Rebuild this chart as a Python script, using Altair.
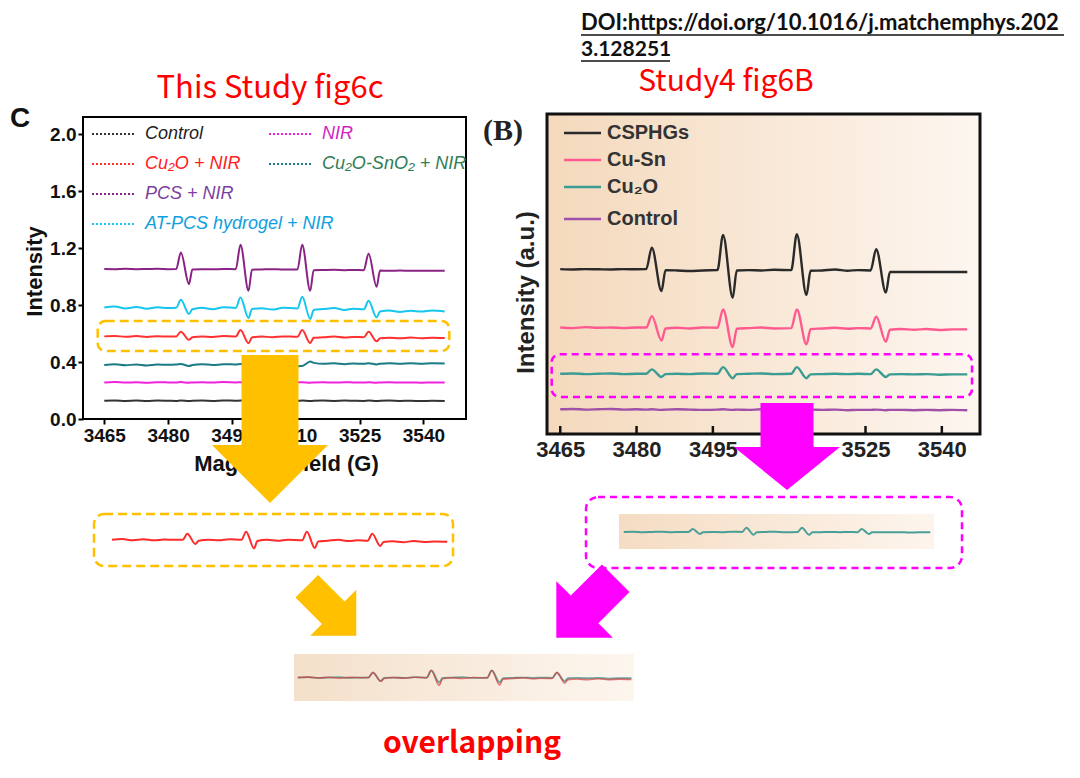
import altair as alt
import pandas as pd

# ---------------- data ----------------
X_GRID = [3465, 3467.5, 3470, 3472.5, 3475, 3477.5, 3480, 3481.9, 3483.0, 3484.9, 3485.7,
          3488, 3490.5, 3493, 3495.9, 3497.0, 3498.9, 3499.7, 3502, 3504.5, 3507,
          3510.4, 3511.5, 3513.4, 3514.2, 3516.5, 3519, 3521.5, 3523.5, 3526.0, 3527.1,
          3529.0, 3529.8, 3532, 3534.5, 3537, 3539.5, 3542, 3545]

LEFT_SERIES = ["Control", "NIR", "Cu₂O + NIR", "Cu₂O-SnO₂ + NIR", "PCS + NIR", "AT-PCS hydrogel + NIR"]
L_CONTROL = [0.128, 0.13, 0.127, 0.129, 0.126, 0.129, 0.128, 0.127, 0.13, 0.126, 0.128,
             0.129, 0.127, 0.13, 0.128, 0.129, 0.126, 0.128, 0.129, 0.127, 0.129,
             0.128, 0.129, 0.126, 0.128, 0.129, 0.127, 0.129, 0.128, 0.127, 0.129,
             0.126, 0.128, 0.129, 0.127, 0.128, 0.126, 0.128, 0.127]
L_NIR = [0.257, 0.259, 0.256, 0.258, 0.255, 0.258, 0.257, 0.256, 0.259, 0.255, 0.257,
         0.258, 0.256, 0.259, 0.257, 0.258, 0.255, 0.257, 0.258, 0.256, 0.258,
         0.257, 0.258, 0.255, 0.257, 0.258, 0.256, 0.258, 0.257, 0.256, 0.258,
         0.255, 0.257, 0.258, 0.256, 0.257, 0.255, 0.257, 0.256]
L_CU2O = [0.58, 0.583, 0.577, 0.582, 0.576, 0.581, 0.579, 0.58, 0.613, 0.556, 0.574,
          0.58, 0.576, 0.582, 0.579, 0.625, 0.531, 0.572, 0.579, 0.574, 0.58,
          0.577, 0.625, 0.533, 0.57, 0.574, 0.579, 0.572, 0.576, 0.574, 0.613,
          0.545, 0.567, 0.571, 0.566, 0.572, 0.567, 0.57, 0.568]
L_CU2O_SNO2 = [0.379, 0.384, 0.377, 0.383, 0.376, 0.382, 0.38, 0.382, 0.386, 0.372, 0.379,
               0.385, 0.379, 0.384, 0.383, 0.386, 0.372, 0.38, 0.386, 0.381, 0.385,
               0.371, 0.372, 0.404, 0.394, 0.387, 0.391, 0.385, 0.39, 0.387, 0.392,
               0.383, 0.388, 0.391, 0.387, 0.392, 0.388, 0.391, 0.39]
L_PCS = [1.053, 1.052, 1.054, 1.052, 1.053, 1.054, 1.052, 1.053, 1.169, 0.947, 1.05,
         1.052, 1.051, 1.053, 1.052, 1.223, 0.900, 1.048, 1.05, 1.052, 1.049,
         1.05, 1.223, 0.900, 1.045, 1.046, 1.047, 1.045, 1.046, 1.045, 1.162,
         0.928, 1.042, 1.041, 1.042, 1.04, 1.041, 1.04, 1.041]
L_ATPCS = [0.783, 0.79, 0.776, 0.787, 0.774, 0.784, 0.779, 0.781, 0.837, 0.737, 0.77,
           0.781, 0.771, 0.784, 0.78, 0.853, 0.709, 0.772, 0.778, 0.768, 0.781,
           0.776, 0.858, 0.702, 0.765, 0.772, 0.779, 0.766, 0.774, 0.77, 0.830,
           0.713, 0.755, 0.762, 0.752, 0.76, 0.754, 0.762, 0.755]
LEFT_LINE_COLORS = ["#333333", "#f022dc", "#ff3030", "#1a7a85", "#8a2385", "#16c6ef"]
LEFT_TEXT_COLORS = ["#222222", "#d21fc8", "#ff2020", "#2f7d55", "#7b3fa0", "#0ea0e0"]
LEFT_LEG_COL = [0, 1, 0, 1, 0, 0]
LEFT_LEG_ROW = [0, 0, 1, 1, 2, 3]

RIGHT_SERIES = ["CSPHGs", "Cu-Sn", "Cu₂O", "Control "]
R_CSPHG = [5.2, 5.19, 5.2, 5.195, 5.19, 5.2, 5.195, 5.2, 5.88, 4.51, 5.17,
           5.16, 5.14, 5.16, 5.17, 6.28, 4.30, 5.16, 5.17, 5.16, 5.18,
           5.17, 6.30, 4.385, 5.15, 5.16, 5.19, 5.15, 5.17, 5.16, 5.83,
           4.46, 5.11, 5.11, 5.11, 5.11, 5.11, 5.11, 5.11]
R_CUSN = [3.36, 3.34, 3.37, 3.35, 3.36, 3.34, 3.36, 3.36, 3.72, 2.95, 3.33,
          3.35, 3.33, 3.36, 3.35, 3.93, 2.74, 3.32, 3.34, 3.36, 3.33,
          3.34, 3.93, 2.83, 3.31, 3.33, 3.35, 3.32, 3.34, 3.33, 3.70,
          2.91, 3.29, 3.31, 3.29, 3.31, 3.28, 3.30, 3.30]
R_CU2O = [1.9, 1.91, 1.89, 1.9, 1.91, 1.89, 1.9, 1.9, 2.04, 1.80, 1.89,
          1.9, 1.89, 1.91, 1.9, 2.11, 1.76, 1.89, 1.9, 1.91, 1.89,
          1.9, 2.11, 1.76, 1.88, 1.89, 1.9, 1.89, 1.9, 1.89, 2.04,
          1.80, 1.88, 1.89, 1.88, 1.89, 1.87, 1.88, 1.88]
R_CONTROL = [0.78, 0.79, 0.77, 0.78, 0.79, 0.77, 0.78, 0.77, 0.78, 0.76, 0.77,
             0.78, 0.77, 0.76, 0.77, 0.78, 0.76, 0.77, 0.76, 0.78, 0.77,
             0.76, 0.77, 0.76, 0.77, 0.76, 0.77, 0.75, 0.76, 0.76, 0.77,
             0.75, 0.76, 0.76, 0.75, 0.76, 0.75, 0.76, 0.75]
RIGHT_LINE_COLORS = ["#2a2a2a", "#ff5a90", "#3a9c93", "#a050a8"]

X_TICKS = [3465, 3480, 3495, 3510, 3525, 3540]
Y_TICKS = [0.0, 0.4, 0.8, 1.2, 1.6, 2.0]

# ---------------- tables ----------------
def long_table(names, arrays):
    rows = []
    for name, arr in zip(names, arrays):
        for x, y in zip(X_GRID, arr):
            rows.append({"x": x, "y": y, "series": name})
    return pd.DataFrame(rows)

left_df = long_table(LEFT_SERIES, [L_CONTROL, L_NIR, L_CU2O, L_CU2O_SNO2, L_PCS, L_ATPCS])
right_df = long_table(RIGHT_SERIES, [R_CSPHG, R_CUSN, R_CU2O, R_CONTROL])

red_df = left_df[left_df.series == "Cu₂O + NIR"].copy()
teal_df = right_df[right_df.series == "Cu₂O"].copy()

# cropped copies (same values, moved / rescaled as in the picture)
red_strip = red_df.assign(x=3466.8 + (red_df.x - 3465) * 0.985, y=(red_df.y - 0.58) * 1.25 - 0.847)
teal_strip = teal_df.assign(x=3475.53 + (teal_df.x - 3462.4) * 0.753, y=(teal_df.y - 1.90) * 0.65 - 3.09)
red_bottom = red_df.assign(x=3505.58 + (red_df.x - 3460) * 0.98, y=(red_df.y - 0.58) * 1.1 - 1.815)
teal_bottom = teal_df.assign(x=3505.58 + (teal_df.x - 3460) * 0.98, y=(teal_df.y - 1.90) * 0.235 - 1.815)

ONE = pd.DataFrame({"k": [0]})
SANS = "Liberation Sans"
CJK = "Noto Sans CJK SC"
ORANGE = "#FFC000"
MAGENTA = "#FF00FF"
INTERP = "monotone"

LW, LH = 383, 302
RW, RH = 433, 317


def arrow(W, H, sw, hh, px, py, color, angle=0):
    S = max(W, H) / 2.0
    pts = [(-sw / 2, -H / 2), (sw / 2, -H / 2), (sw / 2, H / 2 - hh), (W / 2, H / 2 - hh),
           (0, H / 2), (-W / 2, H / 2 - hh), (-sw / 2, H / 2 - hh)]
    path = "M" + " L".join(f"{x / S:.4f},{y / S:.4f}" for x, y in pts) + " Z"
    return alt.Chart(ONE).mark_point(shape=path, size=(2 * S) ** 2, filled=True, color=color,
                                     opacity=1, strokeWidth=0, angle=angle).encode(
        x=alt.value(px), y=alt.value(py))


def text(label, px, py, size, color="#000", font=SANS, weight="normal", style="normal",
         align="center", baseline="middle"):
    return alt.Chart(pd.DataFrame({"t": [label]})).mark_text(
        font=font, fontSize=size, fontWeight=weight, fontStyle=style, color=color,
        align=align, baseline=baseline).encode(x=alt.value(px), y=alt.value(py), text="t:N")


def box(x1, x2, y1, y2, color, radius, dash):
    return alt.Chart(ONE).mark_rect(fill="transparent", stroke=color, strokeWidth=2.5,
                                    strokeDash=dash, cornerRadius=radius).encode(
        x=alt.value(x1), x2=alt.value(x2), y=alt.value(y1), y2=alt.value(y2))


def grad_rect(x1, x2, y1, y2, c1, c2, stroke=None, sw=0):
    kw = {}
    if stroke:
        kw = {"stroke": stroke, "strokeWidth": sw}
    return alt.Chart(ONE).mark_rect(
        fill={"gradient": "linear", "x1": 0, "x2": 1, "y1": 0, "y2": 0,
              "stops": [{"offset": 0, "color": c1}, {"offset": 1, "color": c2}]}, **kw).encode(
        x=alt.value(x1), x2=alt.value(x2), y=alt.value(y1), y2=alt.value(y2))


# ---------------- left chart ----------------
LX = alt.X("x:Q", scale=alt.Scale(domain=[3460, 3550], nice=False, zero=False),
           axis=alt.Axis(values=X_TICKS, format="d", grid=False, domain=False,
                         labelFont=SANS, labelFontSize=19, labelFontWeight="bold", labelColor="#111",
                         tickSize=5, tickWidth=2, tickColor="#000", labelPadding=2,
                         title="Magnetic field (G)", titleFont=SANS, titleFontSize=22,
                         titleFontWeight="bold", titleColor="#111", titleX=203, titleY=44,
                         titleBaseline="middle"))
LY = alt.Y("y:Q", scale=alt.Scale(domain=[0, 2.12], nice=False, zero=False),
           axis=alt.Axis(values=Y_TICKS, format=".1f", grid=False, domain=False,
                         labelFont=SANS, labelFontSize=19, labelFontWeight="bold", labelColor="#111",
                         tickSize=5, tickWidth=2, tickColor="#000", labelPadding=2,
                         title="Intensity", titleFont=SANS, titleFontSize=22,
                         titleFontWeight="bold", titleColor="#111", titleX=-49, titleY=154,
                         titleBaseline="middle"))

left_layers = [
    alt.Chart(left_df).mark_line(strokeWidth=2, interpolate=INTERP).encode(
        x=LX, y=LY, detail="series:N",
        color=alt.Color("series:N", scale=alt.Scale(domain=LEFT_SERIES, range=LEFT_LINE_COLORS), legend=None)),
    box(14.7, 366.3, 204, 234, ORANGE, 8, [9, 5]),
]
for lab, lc, tc, col, row in zip(LEFT_SERIES, LEFT_LINE_COLORS, LEFT_TEXT_COLORS, LEFT_LEG_COL, LEFT_LEG_ROW):
    x0 = 9 + 177 * col
    yy = 17 + 30 * row
    left_layers.append(alt.Chart(ONE).mark_rule(color=lc, strokeWidth=2.2, strokeDash=[2, 2]).encode(
        x=alt.value(x0), x2=alt.value(x0 + 44), y=alt.value(yy)))
    left_layers.append(text(lab, x0 + 53, yy, 18, color=tc, style="italic", align="left"))

left_layers += [
    alt.Chart(red_strip).mark_line(strokeWidth=2, color="#ff2a2a", interpolate=INTERP).encode(x=LX, y=LY),
    box(11, 370, 397, 449, ORANGE, 10, [9, 5]),
    grad_rect(211, 551, 537, 584, "#f4e0ca", "#fdf6ef"),
    alt.Chart(teal_bottom).mark_line(strokeWidth=1.8, color="#4f9c98", opacity=0.85,
                                     interpolate=INTERP).encode(x=LX, y=LY),
    alt.Chart(red_bottom).mark_line(strokeWidth=1.6, color="#d23c3c", opacity=0.7,
                                    interpolate=INTERP).encode(x=LX, y=LY),
    text("This Study fig6c", 187, -28, 31, color="#ff0000", font=CJK),
    text("C", -73, 2, 28, color="#111", weight="bold", align="left"),
    text("overlapping", 389, 627, 30, color="#ff0000", font=CJK, weight="bold"),
    arrow(116, 148, 57, 58, 187, 312, ORANGE),
    arrow(65, 70, 32, 32.5, 248.5, 494, ORANGE, angle=315),
]
left = alt.layer(*left_layers).properties(width=LW, height=LH)

# ---------------- right chart ----------------
RX = alt.X("x:Q", scale=alt.Scale(domain=[3462.4, 3547.5], nice=False, zero=False),
           axis=alt.Axis(values=X_TICKS, format="d", grid=False, domain=False, ticks=False,
                         labelFont=SANS, labelFontSize=22, labelFontWeight="bold", labelColor="#222",
                         labelPadding=5, title=None))
RY = alt.Y("y:Q", scale=alt.Scale(domain=[0, 10], nice=False, zero=False),
           axis=alt.Axis(labels=False, ticks=False, grid=False, domain=False,
                         title="Intensity (a.u.)", titleFont=SANS, titleFontSize=24,
                         titleFontWeight="bold", titleColor="#222", titleX=-21, titleY=175,
                         titleBaseline="middle"))

tick_df = pd.DataFrame({"x": X_TICKS})
right_layers = [
    grad_rect(0, RW, -3, RH, "#f4d9bc", "#fdf6f0", stroke="#111", sw=3),
    alt.Chart(tick_df).mark_rule(color="#111", strokeWidth=2.5).encode(
        x=RX, y=alt.value(RH - 8), y2=alt.value(RH)),
    alt.Chart(right_df).mark_line(strokeWidth=2.4, interpolate=INTERP).encode(
        x=RX, y=RY, detail="series:N",
        color=alt.Color("series:N", scale=alt.Scale(domain=RIGHT_SERIES, range=RIGHT_LINE_COLORS), legend=None)),
]
for i, (lab, lc) in enumerate(zip(RIGHT_SERIES, RIGHT_LINE_COLORS)):
    yy = [16, 43, 70, 102][i]
    right_layers.append(alt.Chart(ONE).mark_rule(color=lc, strokeWidth=2.5).encode(
        x=alt.value(17), x2=alt.value(54), y=alt.value(yy)))
    right_layers.append(text(lab.strip(), 60, yy, 20, color="#333", weight="bold", align="left"))

right_layers += [
    box(4.7, 425, 237.3, 280, MAGENTA, 8, [7, 5]),
    grad_rect(72, 387, 397, 432, "#f5dcc3", "#fdf5ed"),
    alt.Chart(teal_strip).mark_line(strokeWidth=2, color="#4a9e98", interpolate=INTERP).encode(x=RX, y=RY),
    box(39, 415, 380, 451, MAGENTA, 12, [7, 5]),
    text("Study4 fig6B", 179, -35, 30, color="#ff0000", font=CJK),
    text("DOI:https://doi.org/10.1016/j.matchemphys.202", 34, -87, 22, color="#111",
         font="Lato", weight="bold", align="left", baseline="alphabetic"),
    text("3.128251", 34, -61, 21, color="#111", font="Lato", weight="bold", align="left",
         baseline="alphabetic"),
    alt.Chart(ONE).mark_rule(color="#111", strokeWidth=1.6).encode(
        x=alt.value(34), x2=alt.value(517), y=alt.value(-82)),
    alt.Chart(ONE).mark_rule(color="#111", strokeWidth=1.6).encode(
        x=alt.value(34), x2=alt.value(123), y=alt.value(-56)),
    text("(B)", -64, 14, 30, color="#222", font="Liberation Serif", weight="bold", align="left"),
    arrow(106, 87, 53, 43, 240, 329.5, MAGENTA),
    arrow(80, 84, 39, 40, 39, 491, MAGENTA, angle=45),
]
right = alt.layer(*right_layers).properties(width=RW, height=RH)

chart = alt.hconcat(left, right, spacing=81, bounds="flush").resolve_scale(
    color="independent"
).properties(
    padding={"left": 1, "top": 3, "right": 0, "bottom": 10}
).configure_view(stroke="#000", strokeWidth=2)

chart.save("out.html", embed_options={"renderer": "svg", "actions": False})
